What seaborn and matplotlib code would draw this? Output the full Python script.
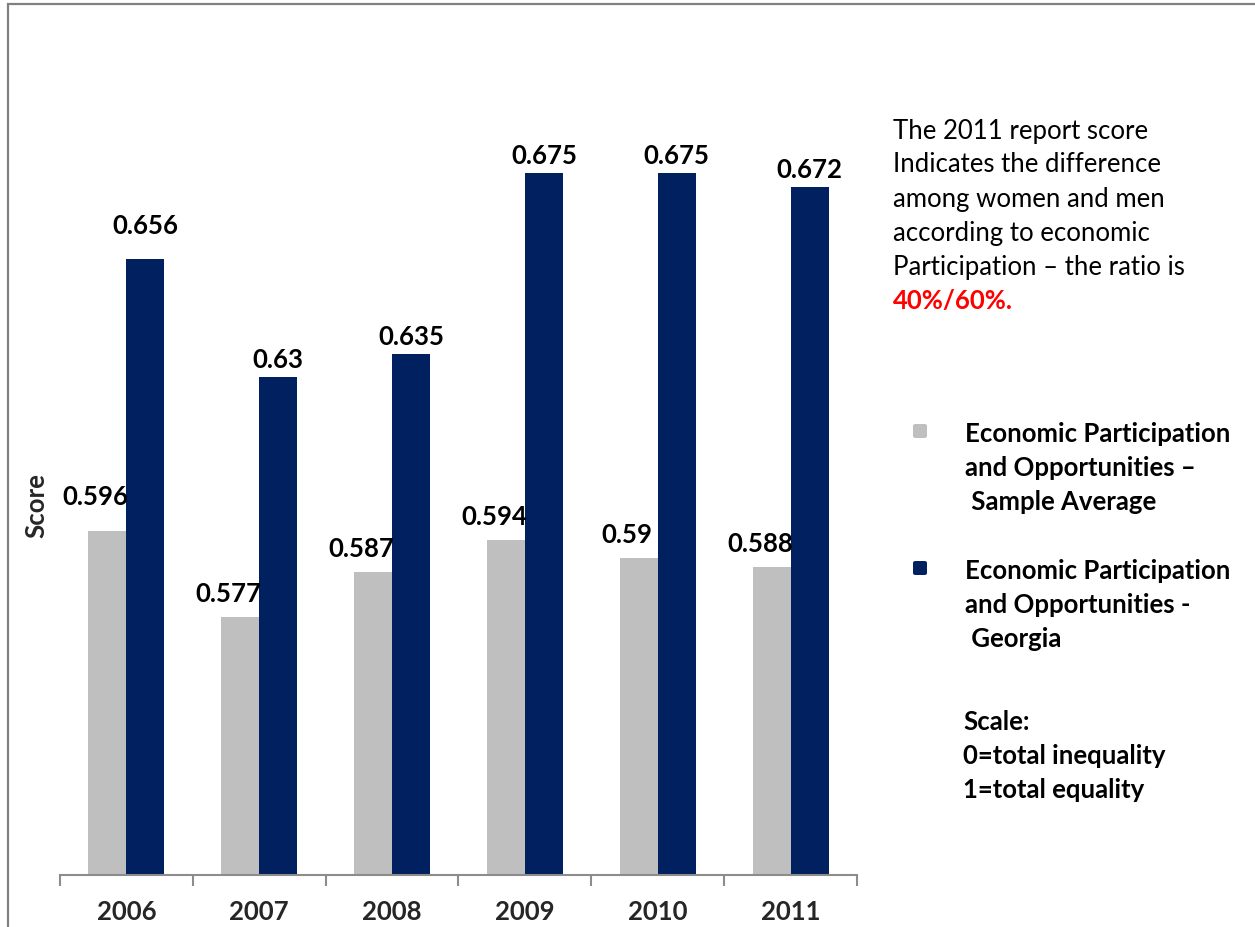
import matplotlib
matplotlib.use("Agg")
import matplotlib.pyplot as plt
from matplotlib.patches import Rectangle, FancyBboxPatch
from matplotlib.ticker import FixedLocator, NullFormatter
import numpy as np
import pandas as pd
import seaborn as sns

# Data
years = ["2006", "2007", "2008", "2009", "2010", "2011"]
sample_average = [0.596, 0.577, 0.587, 0.594, 0.59, 0.588]
georgia = [0.656, 0.63, 0.635, 0.675, 0.675, 0.672]
series_names = [
    "Economic Participation\nand Opportunities \u2013\n Sample Average",
    "Economic Participation\nand Opportunities -\n Georgia",
]
series_colors = ["#BFBFBF", "#002060"]

note_lines = [
    "The 2011 report score",
    "Indicates the difference",
    "among women and men",
    "according to economic",
    "Participation \u2013 the ratio is",
]
note_highlight = "40%/60%."
scale_lines = ["Scale:", "0=total inequality", "1=total equality"]

df = pd.DataFrame({
    "year": years * 2,
    "value": sample_average + georgia,
    "series": [series_names[0]] * len(years) + [series_names[1]] * len(years),
})

sns.set_theme(style="white")
plt.rcParams["font.family"] = ["Lato", "DejaVu Sans"]

W, H = 1255, 928
fig = plt.figure(figsize=(W / 100, H / 100), dpi=100)


def fx(px):
    return px / W


def fy(py):
    return 1 - py / H


ax = fig.add_axes([fx(60), fy(876), fx(857) - fx(60), fy(61) - fy(876)])
sns.barplot(data=df, x="year", y="value", hue="series", palette=series_colors,
            width=0.572, saturation=1, ax=ax, legend=False, linewidth=0)

ax.set_ylim(0.52, 0.70)
ax.set_xlim(-0.5, len(years) - 0.5)

# Axis styling: only the bottom spine, ticks between categories
for side in ["left", "right", "top"]:
    ax.spines[side].set_visible(False)
ax.spines["bottom"].set_color("#8C8C8C")
ax.spines["bottom"].set_linewidth(1.5)
ax.set_yticks([])
ax.xaxis.set_minor_locator(FixedLocator(np.arange(-0.5, len(years), 1.0)))
ax.xaxis.set_minor_formatter(NullFormatter())
ax.tick_params(axis="x", which="major", length=0, pad=17.5, labelsize=18.5)
ax.tick_params(axis="x", which="minor", length=8, width=1.5, color="#8C8C8C",
               direction="out", bottom=True)
for lbl in ax.get_xticklabels():
    lbl.set_fontweight("bold")
ax.set_xlabel("")
ax.set_ylabel("Score", fontsize=18.5, fontweight="bold")
ax.yaxis.set_label_coords(-0.015, 0.455)

# Value labels above bars (sample-average labels sit a little to the left;
# the first group's labels are raised a bit higher)
label_offsets = [(-8.4, 8.4), (0, 4.5)]
extra_lift = [8, 0, 0, 0, 0, 0]
for ci, container in enumerate(ax.containers):
    vals = sample_average if ci == 0 else georgia
    dx, dy = label_offsets[ci]
    for k, (bar, v) in enumerate(zip(container, vals)):
        lift = extra_lift[k] if ci == 0 else extra_lift[k] * 1.4
        ax.annotate(f"{v:g}", (bar.get_x() + bar.get_width() / 2, v),
                    xytext=(dx, dy + lift), textcoords="offset points",
                    ha="center", va="bottom", fontsize=18.5, fontweight="bold",
                    color="black")

# Explanatory note on the right
y0, step = 131, 34
for i, line in enumerate(note_lines):
    fig.text(fx(893), fy(y0 + i * step), line, fontsize=18.5, va="center",
             ha="left", color="black")
fig.text(fx(893), fy(y0 + len(note_lines) * step), note_highlight, fontsize=18.5,
         va="center", ha="left", color="#FF0000", fontweight="bold")

# Legend drawn beside the plot
legend_tops = [434, 571]
for name, color, ytop in zip(series_names, series_colors, legend_tops):
    sq = FancyBboxPatch((fx(913), fy(ytop + 5)), fx(14), 14 / H,
                        boxstyle="round,pad=0,rounding_size=0.002",
                        transform=fig.transFigure, facecolor=color,
                        edgecolor="none")
    fig.patches.append(sq)
    for j, part in enumerate(name.split("\n")):
        fig.text(fx(965), fy(ytop + j * 34), part, fontsize=18.5,
                 fontweight="bold", va="center", ha="left", color="black")

for j, line in enumerate(scale_lines):
    fig.text(fx(963), fy(722 + j * 34), line, fontsize=18.5, fontweight="bold",
             va="center", ha="left", color="black")

# Gray frame around the chart area
frame = Rectangle((fx(7.5), fy(H + 20)), fx(W + 20), (H + 20 - 4.5) / H,
                  transform=fig.transFigure, fill=False,
                  edgecolor="#808080", linewidth=1.6)
fig.patches.append(frame)

fig.savefig("out.png", dpi=100, facecolor="white")
